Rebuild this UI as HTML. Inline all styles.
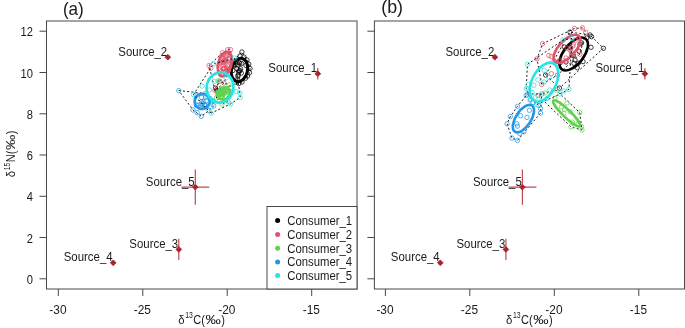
<!DOCTYPE html>
<html><head><meta charset="utf-8"><title>Isotope biplots</title>
<style>html,body{margin:0;padding:0;background:#fff}svg{display:block}</style></head>
<body>
<svg width="685" height="328" viewBox="0 0 685 328" font-family='"Liberation Sans", Arial, sans-serif'>
<rect width="685" height="328" fill="#fff"/>
<rect x="46.5" y="21" width="310.5" height="268" fill="none" stroke="#484848" stroke-width="1"/>
<path d="M58.3 289 v7 M142.8 289 v7 M227.2 289 v7 M311.7 289 v7 M46.5 278.8 h-7 M46.5 237.5 h-7 M46.5 196.3 h-7 M46.5 155 h-7 M46.5 113.8 h-7 M46.5 72.5 h-7 M46.5 31.2 h-7" stroke="#484848" stroke-width="1" fill="none"/>
<text transform="translate(57.9 313.7) scale(0.99 1)" font-size="12" fill="#1a1a1a" text-anchor="middle">-30</text>
<text transform="translate(142.3 313.7) scale(0.99 1)" font-size="12" fill="#1a1a1a" text-anchor="middle">-25</text>
<text transform="translate(226.8 313.7) scale(0.99 1)" font-size="12" fill="#1a1a1a" text-anchor="middle">-20</text>
<text transform="translate(311.3 313.7) scale(0.99 1)" font-size="12" fill="#1a1a1a" text-anchor="middle">-15</text>
<text transform="translate(32.9 283.9) scale(0.93 1)" font-size="12" fill="#1a1a1a" text-anchor="end">0</text>
<text transform="translate(32.9 242.6) scale(0.93 1)" font-size="12" fill="#1a1a1a" text-anchor="end">2</text>
<text transform="translate(32.9 201.4) scale(0.93 1)" font-size="12" fill="#1a1a1a" text-anchor="end">4</text>
<text transform="translate(32.9 160.1) scale(0.93 1)" font-size="12" fill="#1a1a1a" text-anchor="end">6</text>
<text transform="translate(32.9 118.9) scale(0.93 1)" font-size="12" fill="#1a1a1a" text-anchor="end">8</text>
<text transform="translate(32.9 77.6) scale(0.93 1)" font-size="12" fill="#1a1a1a" text-anchor="end">10</text>
<text transform="translate(32.9 36.3) scale(0.93 1)" font-size="12" fill="#1a1a1a" text-anchor="end">12</text>
<text transform="translate(62.9 14.8) scale(0.95 1)" font-size="18" fill="#1a1a1a" text-anchor="start">(a)</text>
<g transform="translate(178.2 323.5) rotate(0)" fill="#1a1a1a">
<text transform="scale(0.95 1)" font-size="12" x="0" y="0">δ</text>
<text transform="translate(7.1 -5.2) scale(0.8 1)" font-size="8.6">13</text>
<text transform="translate(15.1 0) scale(0.92 1)" font-size="12">C(</text>
<text transform="translate(27.3 0) scale(1.28 1)" font-size="12">‰</text>
<text transform="translate(43 0) scale(0.92 1)" font-size="12">)</text>
</g>
<g transform="translate(14.7 177.3) rotate(-90)" fill="#1a1a1a">
<text transform="scale(0.95 1)" font-size="12" x="0" y="0">δ</text>
<text transform="translate(7.1 -5.2) scale(0.8 1)" font-size="8.6">15</text>
<text transform="translate(15.1 0) scale(0.92 1)" font-size="12">N(</text>
<text transform="translate(27.3 0) scale(1.28 1)" font-size="12">‰</text>
<text transform="translate(43 0) scale(0.92 1)" font-size="12">)</text>
</g>
<text transform="translate(317.2 72.1) scale(0.952 1)" font-size="12" fill="#1a1a1a" text-anchor="end">Source_1</text>
<text transform="translate(167.2 55.6) scale(0.952 1)" font-size="12" fill="#1a1a1a" text-anchor="end">Source_2</text>
<text transform="translate(178.2 247.8) scale(0.952 1)" font-size="12" fill="#1a1a1a" text-anchor="end">Source_3</text>
<text transform="translate(112.6 261.2) scale(0.952 1)" font-size="12" fill="#1a1a1a" text-anchor="end">Source_4</text>
<text transform="translate(194.7 185.5) scale(0.952 1)" font-size="12" fill="#1a1a1a" text-anchor="end">Source_5</text>
<path d="M315.2 73.7 H320.3 M317.8 68 V79.5 M166.1 57.2 H169.5 M167.8 55.2 V59.3 M176.7 249.4 H180.8 M178.8 238.7 V260.1 M111.5 262.8 H114.9 M113.2 260.8 V264.9 M181.3 187.1 H209.3 M195.3 169.6 V204.7" stroke="#C04A50" stroke-width="1.2" fill="none"/>
<path d="M317.8 70.8 l2.9 2.9 l-2.9 2.9 l-2.9 -2.9 Z M167.8 54.3 l2.9 2.9 l-2.9 2.9 l-2.9 -2.9 Z M178.8 246.5 l2.9 2.9 l-2.9 2.9 l-2.9 -2.9 Z M113.2 259.9 l2.9 2.9 l-2.9 2.9 l-2.9 -2.9 Z M195.3 184.2 l2.9 2.9 l-2.9 2.9 l-2.9 -2.9 Z" fill="#A9252D" stroke="#A9252D" stroke-width="0.8" stroke-linejoin="round"/>
<path d="M215.5 88.1 L232 62 L241.9 52 L247 60 L248.8 64.1 L250 68.5 L249.5 72.8 L247.5 76 L245.5 78.2 L242 82 L238.8 83.6 L217 90.5 Z" fill="none" stroke="#000" stroke-width="0.9" stroke-dasharray="2 2.2"/>
<g fill="none" stroke="#000000" stroke-width="0.75">
<circle cx="241.9" cy="52" r="2.2"/>
<circle cx="248.8" cy="64.1" r="2.2"/>
<circle cx="249.5" cy="72.8" r="2.2"/>
<circle cx="245.5" cy="78.2" r="2.2"/>
<circle cx="238.8" cy="83.6" r="2.2"/>
<circle cx="240" cy="56" r="2.2"/>
<circle cx="215.5" cy="88.1" r="2.2"/>
<circle cx="217" cy="90.5" r="2.2"/>
<circle cx="244" cy="57" r="2.2"/>
<circle cx="247" cy="60" r="2.2"/>
<circle cx="235" cy="82" r="2.2"/>
<circle cx="242" cy="82" r="2.2"/>
<circle cx="247.5" cy="76" r="2.2"/>
<circle cx="232" cy="62" r="2.2"/>
<circle cx="250" cy="68.5" r="2.2"/>
<circle cx="239" cy="72.1" r="2.2"/>
<circle cx="239.6" cy="63.3" r="2.2"/>
<circle cx="238.9" cy="62.4" r="2.2"/>
<circle cx="237.6" cy="79.6" r="2.2"/>
<circle cx="238.1" cy="65" r="2.2"/>
<circle cx="241.3" cy="73.1" r="2.2"/>
<circle cx="241.5" cy="63.5" r="2.2"/>
<circle cx="238.2" cy="74.9" r="2.2"/>
<circle cx="233.8" cy="65.2" r="2.2"/>
<circle cx="232.9" cy="70.5" r="2.2"/>
<circle cx="240.6" cy="68.8" r="2.2"/>
<circle cx="239.1" cy="70.8" r="2.2"/>
<circle cx="232.9" cy="64.9" r="2.2"/>
<circle cx="236.1" cy="63.1" r="2.2"/>
<circle cx="246" cy="65.4" r="2.2"/>
<circle cx="237.9" cy="76.3" r="2.2"/>
<circle cx="236.9" cy="68.6" r="2.2"/>
<circle cx="239.9" cy="70.6" r="2.2"/>
</g>
<ellipse cx="239.5" cy="70" rx="8" ry="11.8" transform="rotate(13 239.5 70)" fill="none" stroke="#000000" stroke-width="3.0"/>
<path d="M215 90.5 L209 65.5 L222.5 52.7 L227.8 49.6 L230.5 49.6 L231.8 60.4 L228.5 70.4 L224 83 Z" fill="none" stroke="#000" stroke-width="0.9" stroke-dasharray="2 2.2"/>
<g fill="none" stroke="#DF536B" stroke-width="0.75">
<circle cx="227.8" cy="49.6" r="2.2"/>
<circle cx="230.5" cy="49.6" r="2.2"/>
<circle cx="222.5" cy="52.7" r="2.2"/>
<circle cx="209" cy="65.5" r="2.2"/>
<circle cx="210.8" cy="68.2" r="2.2"/>
<circle cx="219.5" cy="81.4" r="2.2"/>
<circle cx="215" cy="90.5" r="2.2"/>
<circle cx="224" cy="83" r="2.2"/>
<circle cx="219.8" cy="63.4" r="2.2"/>
<circle cx="228" cy="65.7" r="2.2"/>
<circle cx="230.1" cy="55.8" r="2.2"/>
<circle cx="224" cy="68.4" r="2.2"/>
<circle cx="222.8" cy="68.9" r="2.2"/>
<circle cx="223.3" cy="68.9" r="2.2"/>
<circle cx="231.8" cy="60.4" r="2.2"/>
<circle cx="226.5" cy="60.7" r="2.2"/>
<circle cx="227.5" cy="55.3" r="2.2"/>
<circle cx="222.9" cy="62" r="2.2"/>
<circle cx="226.2" cy="73.4" r="2.2"/>
<circle cx="221" cy="56.8" r="2.2"/>
<circle cx="223.1" cy="62.8" r="2.2"/>
<circle cx="228.5" cy="70.4" r="2.2"/>
<circle cx="224.2" cy="60.9" r="2.2"/>
<circle cx="221" cy="75.1" r="2.2"/>
<circle cx="223.7" cy="61.3" r="2.2"/>
<circle cx="226.4" cy="63.4" r="2.2"/>
<circle cx="226.1" cy="55.5" r="2.2"/>
<circle cx="225.6" cy="60.7" r="2.2"/>
<circle cx="228.2" cy="70" r="2.2"/>
<circle cx="223.5" cy="69" r="2.2"/>
<circle cx="221.5" cy="71.5" r="2.2"/>
<circle cx="223.7" cy="68.3" r="2.2"/>
<circle cx="219" cy="65.3" r="2.2"/>
<circle cx="225.3" cy="57" r="2.2"/>
<circle cx="222.7" cy="58.5" r="2.2"/>
<circle cx="224.7" cy="67.9" r="2.2"/>
<circle cx="224.5" cy="62.3" r="2.2"/>
<circle cx="226.6" cy="68.6" r="2.2"/>
<circle cx="220.8" cy="62.4" r="2.2"/>
<circle cx="226.9" cy="56.2" r="2.2"/>
</g>
<ellipse cx="224.8" cy="64" rx="6.6" ry="12.4" transform="rotate(14 224.8 64)" fill="none" stroke="#DF536B" stroke-width="2.7"/>
<path d="M216.5 98 L218.1 80.8 L228.9 84.8 L231 88 L228 101.5 L222 104.3 Z" fill="none" stroke="#000" stroke-width="0.9" stroke-dasharray="2 2.2"/>
<g fill="none" stroke="#61D04F" stroke-width="0.75">
<circle cx="222" cy="104.3" r="2.2"/>
<circle cx="218.1" cy="80.8" r="2.2"/>
<circle cx="228.9" cy="84.8" r="2.2"/>
<circle cx="228" cy="101.5" r="2.2"/>
<circle cx="231" cy="88" r="2.2"/>
<circle cx="216.5" cy="98" r="2.2"/>
<circle cx="222.8" cy="90.5" r="2.2"/>
<circle cx="227.2" cy="91.8" r="2.2"/>
<circle cx="222.8" cy="91.6" r="2.2"/>
<circle cx="220.8" cy="97.1" r="2.2"/>
<circle cx="222.5" cy="97.6" r="2.2"/>
<circle cx="221.1" cy="88.8" r="2.2"/>
<circle cx="222.9" cy="92.9" r="2.2"/>
<circle cx="221.2" cy="91.1" r="2.2"/>
<circle cx="226.2" cy="89.5" r="2.2"/>
<circle cx="222" cy="91.4" r="2.2"/>
<circle cx="219.1" cy="91.3" r="2.2"/>
<circle cx="227.5" cy="90.2" r="2.2"/>
<circle cx="226.9" cy="91.3" r="2.2"/>
<circle cx="220.8" cy="94.1" r="2.2"/>
<circle cx="221.9" cy="94.8" r="2.2"/>
<circle cx="221.9" cy="93.5" r="2.2"/>
<circle cx="217.6" cy="94.3" r="2.2"/>
<circle cx="221" cy="96.9" r="2.2"/>
<circle cx="221.8" cy="92.2" r="2.2"/>
<circle cx="223.8" cy="93.8" r="2.2"/>
<circle cx="222.2" cy="96.5" r="2.2"/>
<circle cx="221.7" cy="94.3" r="2.2"/>
<circle cx="217.7" cy="92.6" r="2.2"/>
<circle cx="227" cy="89" r="2.2"/>
<circle cx="224.6" cy="92.7" r="2.2"/>
<circle cx="221.3" cy="93.1" r="2.2"/>
<circle cx="225.1" cy="91.2" r="2.2"/>
<circle cx="223.3" cy="93.9" r="2.2"/>
<circle cx="228.9" cy="92.8" r="2.2"/>
<circle cx="223.8" cy="91" r="2.2"/>
</g>
<ellipse cx="223.7" cy="93.5" rx="6.6" ry="5.8" transform="rotate(-35 223.7 93.5)" fill="none" stroke="#61D04F" stroke-width="2.7"/>
<path d="M178.8 90.6 L205.5 93.5 L213 101.5 L213.7 105.9 L209 110.6 L201.3 116.3 L193 110 Z" fill="none" stroke="#000" stroke-width="0.9" stroke-dasharray="2 2.2"/>
<g fill="none" stroke="#2297E6" stroke-width="0.75">
<circle cx="178.8" cy="90.6" r="2.2"/>
<circle cx="193" cy="110" r="2.2"/>
<circle cx="197.1" cy="112.6" r="2.2"/>
<circle cx="201.3" cy="116.3" r="2.2"/>
<circle cx="209" cy="110.6" r="2.2"/>
<circle cx="213.7" cy="105.9" r="2.2"/>
<circle cx="205.5" cy="93.5" r="2.2"/>
<circle cx="196" cy="95" r="2.2"/>
<circle cx="210" cy="98.5" r="2.2"/>
<circle cx="213" cy="101.5" r="2.2"/>
<circle cx="196.4" cy="105.4" r="2.2"/>
<circle cx="206.2" cy="100.8" r="2.2"/>
<circle cx="204.5" cy="104.7" r="2.2"/>
<circle cx="205.7" cy="105.3" r="2.2"/>
<circle cx="200.3" cy="107.7" r="2.2"/>
<circle cx="197" cy="105" r="2.2"/>
<circle cx="204.3" cy="105.1" r="2.2"/>
<circle cx="205.6" cy="97.2" r="2.2"/>
<circle cx="202.1" cy="104.9" r="2.2"/>
<circle cx="203.3" cy="101.6" r="2.2"/>
<circle cx="201.2" cy="101.6" r="2.2"/>
<circle cx="201.5" cy="97.3" r="2.2"/>
<circle cx="201.9" cy="103.1" r="2.2"/>
</g>
<ellipse cx="202.2" cy="101.4" rx="7.6" ry="7.6" transform="rotate(0 202.2 101.4)" fill="none" stroke="#2297E6" stroke-width="2.7"/>
<path d="M211.1 113.2 L193.5 94.6 L213.3 64 L234.6 58.1 L239.8 92.8 L240.2 97.5 L230.5 104 Z" fill="none" stroke="#000" stroke-width="0.9" stroke-dasharray="2 2.2"/>
<g fill="none" stroke="#28E2E5" stroke-width="0.75">
<circle cx="234.6" cy="58.1" r="2.2"/>
<circle cx="213.3" cy="64" r="2.2"/>
<circle cx="202.2" cy="86" r="2.2"/>
<circle cx="193.5" cy="94.6" r="2.2"/>
<circle cx="236.3" cy="91.6" r="2.2"/>
<circle cx="239.8" cy="92.8" r="2.2"/>
<circle cx="240.2" cy="97.5" r="2.2"/>
<circle cx="211.1" cy="113.2" r="2.2"/>
<circle cx="230.5" cy="104" r="2.2"/>
<circle cx="213" cy="100.5" r="2.2"/>
<circle cx="207" cy="96" r="2.2"/>
<circle cx="226" cy="78" r="2.2"/>
<circle cx="214.1" cy="81.4" r="2.2"/>
<circle cx="211" cy="107" r="2.2"/>
<circle cx="209.5" cy="90" r="2.2"/>
<circle cx="229" cy="97" r="2.2"/>
</g>
<ellipse cx="220" cy="87.5" rx="13.3" ry="15.2" transform="rotate(11 220 87.5)" fill="none" stroke="#28E2E5" stroke-width="2.7"/>
<rect x="267" y="206.5" width="90" height="82.5" fill="#fff" stroke="#484848" stroke-width="1"/>
<circle cx="277.6" cy="220.5" r="2.5" fill="#000000"/>
<text transform="translate(287.3 224.8) scale(0.945 1)" font-size="12" fill="#1a1a1a" text-anchor="start">Consumer_1</text>
<circle cx="277.6" cy="234.4" r="2.5" fill="#DF536B"/>
<text transform="translate(287.3 238.7) scale(0.945 1)" font-size="12" fill="#1a1a1a" text-anchor="start">Consumer_2</text>
<circle cx="277.6" cy="248.2" r="2.5" fill="#61D04F"/>
<text transform="translate(287.3 252.5) scale(0.945 1)" font-size="12" fill="#1a1a1a" text-anchor="start">Consumer_3</text>
<circle cx="277.6" cy="261.9" r="2.5" fill="#2297E6"/>
<text transform="translate(287.3 266.2) scale(0.945 1)" font-size="12" fill="#1a1a1a" text-anchor="start">Consumer_4</text>
<circle cx="277.6" cy="275.4" r="2.5" fill="#28E2E5"/>
<text transform="translate(287.3 279.7) scale(0.945 1)" font-size="12" fill="#1a1a1a" text-anchor="start">Consumer_5</text>
<rect x="374.4" y="21" width="310.1" height="268" fill="none" stroke="#484848" stroke-width="1"/>
<path d="M385.4 289 v7 M469.8 289 v7 M554.3 289 v7 M638.8 289 v7 M374.4 278.8 h-7 M374.4 237.5 h-7 M374.4 196.3 h-7 M374.4 155 h-7 M374.4 113.8 h-7 M374.4 72.5 h-7 M374.4 31.2 h-7" stroke="#484848" stroke-width="1" fill="none"/>
<text transform="translate(385 313.7) scale(0.99 1)" font-size="12" fill="#1a1a1a" text-anchor="middle">-30</text>
<text transform="translate(469.4 313.7) scale(0.99 1)" font-size="12" fill="#1a1a1a" text-anchor="middle">-25</text>
<text transform="translate(553.9 313.7) scale(0.99 1)" font-size="12" fill="#1a1a1a" text-anchor="middle">-20</text>
<text transform="translate(638.4 313.7) scale(0.99 1)" font-size="12" fill="#1a1a1a" text-anchor="middle">-15</text>
<text transform="translate(381.2 13.3) scale(0.99 1)" font-size="18" fill="#1a1a1a" text-anchor="start">(b)</text>
<g transform="translate(505.9 323.5) rotate(0)" fill="#1a1a1a">
<text transform="scale(0.95 1)" font-size="12" x="0" y="0">δ</text>
<text transform="translate(7.1 -5.2) scale(0.8 1)" font-size="8.6">13</text>
<text transform="translate(15.1 0) scale(0.92 1)" font-size="12">C(</text>
<text transform="translate(27.3 0) scale(1.28 1)" font-size="12">‰</text>
<text transform="translate(43 0) scale(0.92 1)" font-size="12">)</text>
</g>
<text transform="translate(644.3 72.1) scale(0.952 1)" font-size="12" fill="#1a1a1a" text-anchor="end">Source_1</text>
<text transform="translate(494.3 55.6) scale(0.952 1)" font-size="12" fill="#1a1a1a" text-anchor="end">Source_2</text>
<text transform="translate(505.3 247.8) scale(0.952 1)" font-size="12" fill="#1a1a1a" text-anchor="end">Source_3</text>
<text transform="translate(439.7 261.2) scale(0.952 1)" font-size="12" fill="#1a1a1a" text-anchor="end">Source_4</text>
<text transform="translate(521.8 185.5) scale(0.952 1)" font-size="12" fill="#1a1a1a" text-anchor="end">Source_5</text>
<path d="M642.3 73.7 H647.4 M644.9 68 V79.5 M493.2 57.2 H496.6 M494.9 55.2 V59.3 M503.8 249.4 H507.9 M505.9 238.7 V260.1 M438.6 262.8 H442 M440.3 260.8 V264.9 M508.4 187.1 H536.4 M522.4 169.6 V204.7" stroke="#C04A50" stroke-width="1.2" fill="none"/>
<path d="M644.9 70.8 l2.9 2.9 l-2.9 2.9 l-2.9 -2.9 Z M494.9 54.3 l2.9 2.9 l-2.9 2.9 l-2.9 -2.9 Z M505.9 246.5 l2.9 2.9 l-2.9 2.9 l-2.9 -2.9 Z M440.3 259.9 l2.9 2.9 l-2.9 2.9 l-2.9 -2.9 Z M522.4 184.2 l2.9 2.9 l-2.9 2.9 l-2.9 -2.9 Z" fill="#A9252D" stroke="#A9252D" stroke-width="0.8" stroke-linejoin="round"/>
<path d="M545.6 75 L570 32.1 L590 35 L603.4 48.3 L559.4 88.1 Z" fill="none" stroke="#000" stroke-width="0.9" stroke-dasharray="2 2.2"/>
<g fill="none" stroke="#000000" stroke-width="0.75">
<circle cx="570" cy="32.1" r="2.2"/>
<circle cx="591.6" cy="36.7" r="2.2"/>
<circle cx="603.4" cy="48.3" r="2.2"/>
<circle cx="591" cy="47.3" r="2.2"/>
<circle cx="583" cy="61.6" r="2.2"/>
<circle cx="577.2" cy="67.7" r="2.2"/>
<circle cx="545.6" cy="75" r="2.2"/>
<circle cx="559.4" cy="88.1" r="2.2"/>
<circle cx="569" cy="47" r="2.2"/>
<circle cx="572" cy="55" r="2.2"/>
<circle cx="566" cy="62" r="2.2"/>
<circle cx="580" cy="44" r="2.2"/>
<circle cx="575" cy="60" r="2.2"/>
<circle cx="590" cy="35" r="2.2"/>
<circle cx="560.1" cy="62.8" r="2.2"/>
<circle cx="558.6" cy="61.8" r="2.2"/>
<circle cx="570.6" cy="47.8" r="2.2"/>
<circle cx="579.2" cy="51.3" r="2.2"/>
<circle cx="581.6" cy="42.8" r="2.2"/>
<circle cx="564.4" cy="47" r="2.2"/>
<circle cx="574" cy="63.3" r="2.2"/>
<circle cx="573.4" cy="55.4" r="2.2"/>
<circle cx="578.2" cy="63.2" r="2.2"/>
<circle cx="586.7" cy="38" r="2.2"/>
</g>
<ellipse cx="573.7" cy="54" rx="19.3" ry="10" transform="rotate(-52 573.7 54)" fill="none" stroke="#000000" stroke-width="2.6"/>
<path d="M541.7 84.4 L537 58.8 L542.6 43.7 L574.5 28.5 L582.4 27.9 L585.7 32.1 L579.8 54.2 L557.5 75 Z" fill="none" stroke="#000" stroke-width="0.9" stroke-dasharray="2 2.2"/>
<g fill="none" stroke="#DF536B" stroke-width="0.75">
<circle cx="574.5" cy="28.5" r="2.2"/>
<circle cx="582.4" cy="27.9" r="2.2"/>
<circle cx="585.7" cy="32.1" r="2.2"/>
<circle cx="542.6" cy="43.7" r="2.2"/>
<circle cx="537" cy="58.8" r="2.2"/>
<circle cx="548.9" cy="55.5" r="2.2"/>
<circle cx="579.8" cy="54.2" r="2.2"/>
<circle cx="551.5" cy="73.7" r="2.2"/>
<circle cx="557.5" cy="75" r="2.2"/>
<circle cx="541.7" cy="84.4" r="2.2"/>
<circle cx="561" cy="45" r="2.2"/>
<circle cx="570" cy="50" r="2.2"/>
<circle cx="566" cy="58" r="2.2"/>
<circle cx="576" cy="40" r="2.2"/>
<circle cx="573" cy="46" r="2.2"/>
<circle cx="560" cy="60" r="2.2"/>
<circle cx="551.2" cy="56.5" r="2.2"/>
<circle cx="578.6" cy="37.9" r="2.2"/>
<circle cx="567.2" cy="48.1" r="2.2"/>
<circle cx="571.3" cy="52.1" r="2.2"/>
<circle cx="573.3" cy="44.1" r="2.2"/>
<circle cx="559.5" cy="61.8" r="2.2"/>
<circle cx="565.8" cy="60.8" r="2.2"/>
<circle cx="554.2" cy="61.2" r="2.2"/>
</g>
<ellipse cx="567" cy="48.8" rx="17.5" ry="8.3" transform="rotate(-47 567 48.8)" fill="none" stroke="#DF536B" stroke-width="2.6"/>
<path d="M579.7 112.6 L582 130 L571 126.9 L538 95.5 L545 93 L556 90 Z" fill="none" stroke="#000" stroke-width="0.9" stroke-dasharray="2 2.2"/>
<g fill="none" stroke="#61D04F" stroke-width="0.75">
<circle cx="567" cy="103" r="2.2"/>
<circle cx="579.7" cy="112.6" r="2.2"/>
<circle cx="582" cy="130" r="2.2"/>
<circle cx="571" cy="126.9" r="2.2"/>
<circle cx="561.4" cy="107" r="2.2"/>
<circle cx="564.6" cy="109.4" r="2.2"/>
<circle cx="563.8" cy="113.4" r="2.2"/>
<circle cx="570.2" cy="111.8" r="2.2"/>
<circle cx="572.5" cy="122.1" r="2.2"/>
<circle cx="578" cy="124.2" r="2.2"/>
<circle cx="555" cy="98.3" r="2.2"/>
<circle cx="538" cy="95.5" r="2.2"/>
<circle cx="545" cy="93" r="2.2"/>
<circle cx="556" cy="90" r="2.2"/>
<circle cx="581.5" cy="126.5" r="2.2"/>
</g>
<ellipse cx="566.6" cy="113.4" rx="18.3" ry="3.8" transform="rotate(44 566.6 113.4)" fill="none" stroke="#61D04F" stroke-width="2.6"/>
<path d="M527.5 94 L541.8 94 L540.5 113.1 L517.5 140.4 L511.9 138 L507.1 123.7 L510.3 116.6 L517.5 106.3 L526.2 95.5 Z" fill="none" stroke="#000" stroke-width="0.9" stroke-dasharray="2 2.2"/>
<g fill="none" stroke="#2297E6" stroke-width="0.75">
<circle cx="517.5" cy="106.3" r="2.2"/>
<circle cx="510.3" cy="116.6" r="2.2"/>
<circle cx="507.1" cy="123.7" r="2.2"/>
<circle cx="511.9" cy="138" r="2.2"/>
<circle cx="517.5" cy="140.4" r="2.2"/>
<circle cx="540.5" cy="108.7" r="2.2"/>
<circle cx="540.5" cy="113.1" r="2.2"/>
<circle cx="529.4" cy="110.3" r="2.2"/>
<circle cx="520.6" cy="115.8" r="2.2"/>
<circle cx="527" cy="117.4" r="2.2"/>
<circle cx="516.7" cy="123.7" r="2.2"/>
<circle cx="517.5" cy="126.1" r="2.2"/>
<circle cx="519.8" cy="133.6" r="2.2"/>
<circle cx="523.8" cy="131.7" r="2.2"/>
<circle cx="526.2" cy="95.5" r="2.2"/>
<circle cx="530.2" cy="100" r="2.2"/>
<circle cx="538.9" cy="105.5" r="2.2"/>
<circle cx="541.8" cy="94" r="2.2"/>
<circle cx="527.5" cy="94" r="2.2"/>
<circle cx="533" cy="102.5" r="2.2"/>
</g>
<ellipse cx="523.4" cy="118.6" rx="7.6" ry="15.6" transform="rotate(33 523.4 118.6)" fill="none" stroke="#2297E6" stroke-width="2.6"/>
<path d="M572 38.5 L568.9 89.3 L560 94 L537 104.5 L530.7 98.8 L526.2 88.5 L527.5 64.3 L563 40 Z" fill="none" stroke="#000" stroke-width="0.9" stroke-dasharray="2 2.2"/>
<g fill="none" stroke="#28E2E5" stroke-width="0.75">
<circle cx="527.5" cy="64.3" r="2.2"/>
<circle cx="526.2" cy="88.5" r="2.2"/>
<circle cx="568.9" cy="89.3" r="2.2"/>
<circle cx="563" cy="40" r="2.2"/>
<circle cx="572" cy="38.5" r="2.2"/>
<circle cx="564" cy="90.9" r="2.2"/>
<circle cx="560" cy="94" r="2.2"/>
<circle cx="537" cy="104.5" r="2.2"/>
<circle cx="530.7" cy="98.8" r="2.2"/>
<circle cx="528.3" cy="84.5" r="2.2"/>
<circle cx="544.1" cy="70.3" r="2.2"/>
<circle cx="549" cy="77.4" r="2.2"/>
<circle cx="537.8" cy="79.8" r="2.2"/>
<circle cx="544" cy="82" r="2.2"/>
<circle cx="533.8" cy="85.3" r="2.2"/>
<circle cx="549.7" cy="90" r="2.2"/>
<circle cx="535.4" cy="97.2" r="2.2"/>
<circle cx="541" cy="101" r="2.2"/>
<circle cx="547" cy="98.5" r="2.2"/>
<circle cx="532" cy="92.5" r="2.2"/>
</g>
<ellipse cx="544" cy="82.2" rx="12" ry="21" transform="rotate(27 544 82.2)" fill="none" stroke="#28E2E5" stroke-width="2.6"/>
</svg>
</body></html>
